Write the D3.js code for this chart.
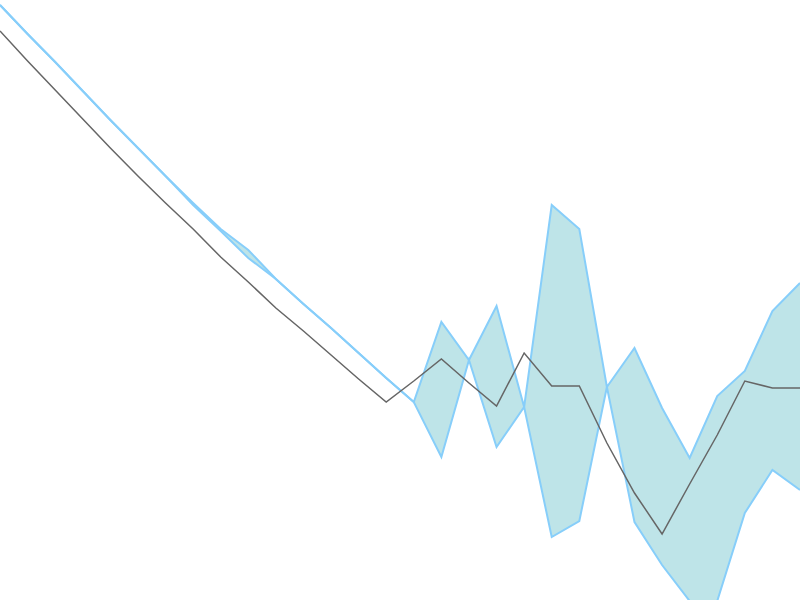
<!DOCTYPE html>
<html>
<head>
<meta charset="utf-8">
<script src="https://cdn.jsdelivr.net/npm/d3@7"></script>
<style>
  html, body { margin: 0; padding: 0; background: #fff; }
  svg { display: block; }
</style>
</head>
<body>
<svg id="canvas"></svg>
<script>
// step positions along x (no axis shown in the chart)
let steps = [0, 1, 2, 3, 4, 5, 6, 7, 8, 9, 10, 11, 12, 13, 14,
             15, 16, 17, 18, 19, 20, 21, 22, 23, 24, 25, 26, 27, 28, 29];

// middle (grey) line
let midValues = [56.9, 53.9, 51.0, 48.1, 45.2, 42.4, 39.7, 37.1, 34.3, 31.8,
                 29.2, 26.9, 24.5, 22.1, 19.8, 21.9, 24.1, 21.7, 19.4, 24.7,
                 21.4, 21.4, 15.7, 10.7, 6.6, 11.6, 16.5, 21.9, 21.2, 21.2];

// band edges
let upperValues = [59.5, 56.6, 53.8, 50.9, 48.0, 45.2, 42.4, 39.7, 37.1, 35.0,
                   32.1, 29.6, 27.2, 24.7, 22.2, 19.8, 27.8, 24.0, 29.4, 19.3,
                   39.5, 37.1, 21.3, 25.2, 19.2, 14.2, 20.4, 22.9, 28.9, 31.7];
let lowerValues = [59.5, 56.6, 53.8, 50.9, 48.0, 45.2, 42.4, 39.5, 36.9, 34.2,
                   32.1, 29.6, 27.2, 24.7, 22.2, 19.8, 14.3, 24.0, 15.3, 19.3,
                   6.3, 7.9, 21.3, 7.8, 3.5, -0.1, -0.1, 8.7, 13.0, 11.0];

let width = 800;
let height = 600;

let canvas = d3.select('#canvas')
    .attr('width', width)
    .attr('height', height);

let xScale = d3.scaleLinear()
    .domain([0, 29])
    .range([0, width]);

let yScale = d3.scaleLinear()
    .domain([0, 60])
    .range([height, 0]);

let rows = steps.map((s, i) => {
    return { step: s, mid: midValues[i], upper: upperValues[i], lower: lowerValues[i] };
});

let drawBand = () => {
    let area = d3.area()
        .x((d) => xScale(d.step))
        .y0((d) => yScale(d.lower))
        .y1((d) => yScale(d.upper));

    canvas.append('path')
        .datum(rows)
        .attr('d', area)
        .attr('fill', '#bee4e8')
        .attr('stroke', 'none');

    let upperLine = d3.line()
        .x((d) => xScale(d.step))
        .y((d) => yScale(d.upper));
    let lowerLine = d3.line()
        .x((d) => xScale(d.step))
        .y((d) => yScale(d.lower));

    canvas.append('path')
        .datum(rows)
        .attr('d', upperLine)
        .attr('fill', 'none')
        .attr('stroke', '#87cefa')
        .attr('stroke-width', 2);

    canvas.append('path')
        .datum(rows)
        .attr('d', lowerLine)
        .attr('fill', 'none')
        .attr('stroke', '#87cefa')
        .attr('stroke-width', 2);
};

let drawMidLine = () => {
    let line = d3.line()
        .x((d) => xScale(d.step))
        .y((d) => yScale(d.mid));

    canvas.append('path')
        .datum(rows)
        .attr('d', line)
        .attr('fill', 'none')
        .attr('stroke', '#666')
        .attr('stroke-width', 1.5);
};

drawBand();
drawMidLine();
</script>
</body>
</html>
